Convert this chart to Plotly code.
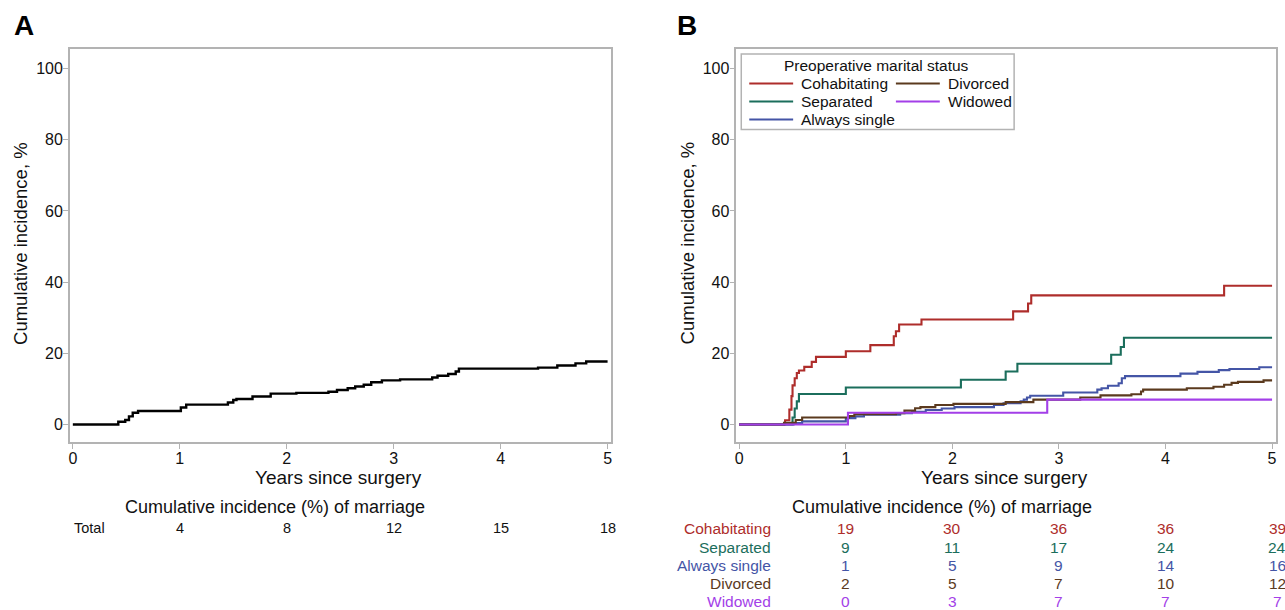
import plotly.graph_objects as go

W, H = 1285, 610

# ---------------- data ----------------
years_ticks = [0, 1, 2, 3, 4, 5]
y_ticks = [0, 20, 40, 60, 80, 100]

# Panel A: total
total_t = [0, 0.425, 0.49, 0.525, 0.56, 0.61, 1.01, 1.06, 1.45, 1.50, 1.53, 1.68, 1.85, 2.09,
           2.39, 2.47, 2.57, 2.64, 2.72, 2.79, 2.89, 3.06, 3.36, 3.41, 3.51, 3.58, 3.61,
           4.35, 4.53, 4.70, 4.80, 5.0]
total_v = [0, 0.8, 1.3, 2.3, 3.3, 3.8, 4.8, 5.6, 6.2, 6.9, 7.2, 7.9, 8.7, 8.9,
           9.2, 9.7, 10.2, 10.7, 11.2, 11.9, 12.4, 12.7, 13.2, 13.7, 14.2, 14.9, 15.7,
           16.0, 16.6, 17.2, 17.7, 17.7]

# Panel B: by preoperative marital status
cohab_t = [0, 0.43, 0.47, 0.49, 0.50, 0.52, 0.54, 0.56, 0.61, 0.68, 0.72, 1.0, 1.23, 1.45,
           1.47, 1.50, 1.71, 2.57, 2.71, 2.74, 4.55, 5.0]
cohab_v = [0, 1.2, 4.2, 8, 11, 13, 14.5, 15.2, 16.2, 17.6, 19, 20.6, 22.3, 24.8,
           26.2, 28.1, 29.5, 31.8, 34, 36.3, 39, 39]

sep_t = [0, 0.50, 0.52, 0.54, 0.56, 1.0, 2.08, 2.50, 2.61, 3.49, 3.58, 3.61, 5.0]
sep_v = [0, 2, 4.5, 6.5, 8.6, 10.4, 12.6, 14.9, 17.1, 19.6, 21.8, 24.4, 24.4]

single_t = [0, 0.51, 0.59, 1.0, 1.09, 1.17, 1.51, 1.62, 1.75, 1.9, 2.02, 2.39, 2.48, 2.64,
            2.67, 2.70, 2.73, 3.04, 3.36, 3.40, 3.46, 3.56, 3.59, 3.62, 4.14, 4.3, 4.5,
            4.6, 4.88, 5.0]
single_v = [0, 0.4, 0.9, 1.8, 2.3, 2.8, 3.2, 3.6, 4.1, 4.5, 4.9, 5.5, 6.0, 6.5,
            7.0, 7.6, 8.1, 9.0, 9.8, 10.2, 10.9, 11.6, 13.0, 13.6, 14.3, 14.8, 15.3,
            15.6, 16.1, 16.1]

div_t = [0, 0.42, 0.53, 0.59, 1.03, 1.08, 1.47, 1.55, 1.65, 1.70, 1.84, 2.01, 2.50, 2.76,
         3.20, 3.39, 3.68, 3.77, 3.79, 4.2, 4.45, 4.55, 4.62, 4.68, 4.92, 5.0]
div_v = [0, 0.5, 1.3, 2.0, 2.4, 2.9, 3.2, 3.9, 4.6, 4.9, 5.5, 5.8, 6.3, 7.0,
         7.6, 8.2, 8.5, 9.3, 9.8, 10.2, 10.6, 11.2, 11.7, 12.0, 12.4, 12.4]

wid_t = [0, 1.02, 2.89, 5.0]
wid_v = [0, 3.3, 7.0, 7.0]

# Tables
table_years = [1, 2, 3, 4, 5]
table_total = [4, 8, 12, 15, 18]
group_names = ["Cohabitating", "Separated", "Always single", "Divorced", "Widowed"]
table_cohab = [19, 30, 36, 36, 39]
table_sep = [9, 11, 17, 24, 24]
table_single = [1, 5, 9, 14, 16]
table_div = [2, 5, 7, 10, 12]
table_wid = [0, 3, 7, 7, 7]

# ---------------- styles ----------------
FONT = "Arial, Liberation Sans, sans-serif"
C_COHAB = "#AE2D2B"
C_SEP = "#1B6E5C"
C_SINGLE = "#4455A6"
C_DIV = "#5B3A1E"
C_WID = "#A33FE8"
FRAME = "#b3b3b3"

def px(x):
    return x / W

def py(y):
    return 1 - y / H

fig = go.Figure()

fig.add_trace(go.Scatter(x=total_t, y=total_v, mode="lines", line=dict(color="black", width=2.4, shape="hv"),
                         xaxis="x", yaxis="y", showlegend=False, hoverinfo="skip"))

series_b = [
    (cohab_t, cohab_v, C_COHAB),
    (sep_t, sep_v, C_SEP),
    (single_t, single_v, C_SINGLE),
    (div_t, div_v, C_DIV),
    (wid_t, wid_v, C_WID),
]
for t, v, c in series_b:
    fig.add_trace(go.Scatter(x=t, y=v, mode="lines", line=dict(color=c, width=2.1, shape="hv"),
                             xaxis="x2", yaxis="y2", showlegend=False, hoverinfo="skip"))

yrange = [-4.9, 105.5]
ax_common = dict(showline=True, linecolor=FRAME, linewidth=1.5, mirror=True, ticks="outside",
                 ticklen=5, tickcolor=FRAME, tickwidth=1.2, showgrid=False, zeroline=False,
                 tickfont=dict(family=FONT, size=16, color="#111"))

fig.update_layout(
    width=W, height=H, margin=dict(l=0, r=0, t=0, b=0),
    paper_bgcolor="white", plot_bgcolor="white",
    font=dict(family=FONT, color="#111"),
    xaxis=dict(domain=[px(69), px(611)], range=[-0.028, 5.028], tickvals=years_ticks, anchor="y",
               ticklabelstandoff=-4, **ax_common),
    yaxis=dict(domain=[py(442), py(49)], range=yrange, tickvals=y_ticks, anchor="x",
               ticklabelstandoff=-3, **ax_common),
    xaxis2=dict(domain=[px(737), px(1278)], range=[-0.028, 5.037], tickvals=years_ticks, anchor="y2",
                ticklabelstandoff=-4, **ax_common),
    yaxis2=dict(domain=[py(442), py(49)], range=yrange, tickvals=y_ticks, anchor="x2",
                ticklabelstandoff=-3, **ax_common),
)

ann = []

def add_text(x, y, text, size, color="#111", xanchor="center", xref="paper", bold=False, angle=0, xshift=0):
    ann.append(dict(x=x, y=y, xref=xref, yref="paper", text=("<b>%s</b>" % text) if bold else text,
                    showarrow=False, xanchor=xanchor, yanchor="middle", textangle=angle, xshift=xshift,
                    font=dict(family=FONT, size=size, color=color), borderpad=0))

# panel letters
add_text(px(23), py(25), "A", 28, color="black", bold=True)
add_text(px(688), py(25), "B", 28, color="black", bold=True)

# axis titles
for xc, yc in [(20, 243), (689, 243)]:
    add_text(px(xc), py(yc), "Cumulative incidence, %", 18.5, angle=-90)
add_text(px(338), py(477), "Years since surgery", 19)
add_text(px(1006), py(477), "Years since surgery", 19)

# table A
add_text(px(275), py(507), "Cumulative incidence (%) of marriage", 18)
add_text(px(72), py(528), "Total", 14.5, xanchor="left")
for yr, val in zip(table_years, table_total):
    add_text(yr, py(528), str(val), 14.5, xref="x")

# table B
add_text(px(943), py(507), "Cumulative incidence (%) of marriage", 18)
rows_y = [528, 547, 565, 583, 601]
tables_b = [table_cohab, table_sep, table_single, table_div, table_wid]
colors_b = [C_COHAB, C_SEP, C_SINGLE, C_DIV, C_WID]
for name, vals, col, yy in zip(group_names, tables_b, colors_b, rows_y):
    add_text(px(773), py(yy), name, 15.5, color=col, xanchor="right")
    for yr, val in zip(table_years, vals):
        add_text(yr, py(yy), str(val), 15.5, color=col, xref="x2", xshift=5 if yr == 5 else 0)

# legend (drawn manually)
shapes = [dict(type="rect", xref="paper", yref="paper", x0=px(742), x1=px(1015.5), y0=py(129.5), y1=py(54),
               line=dict(color=FRAME, width=1.5), fillcolor="white", layer="above")]
add_text(px(878), py(65.5), "Preoperative marital status", 15.5)
legend_items = [
    ("Cohabitating", C_COHAB, 750, 83.5),
    ("Divorced", C_DIV, 897, 83.5),
    ("Separated", C_SEP, 750, 101.5),
    ("Widowed", C_WID, 897, 101.5),
    ("Always single", C_SINGLE, 750, 119.5),
]
for name, col, x0, yy in legend_items:
    shapes.append(dict(type="line", xref="paper", yref="paper", x0=px(x0), x1=px(x0 + 44), y0=py(yy), y1=py(yy),
                       line=dict(color=col, width=2), layer="above"))
    add_text(px(x0 + 51), py(yy), name, 15.5, xanchor="left")

fig.update_layout(annotations=ann, shapes=shapes)
fig.write_html("out.html", config={"displayModeBar": False},
               post_script="document.body.style.margin='0';document.body.style.overflow='hidden';")
